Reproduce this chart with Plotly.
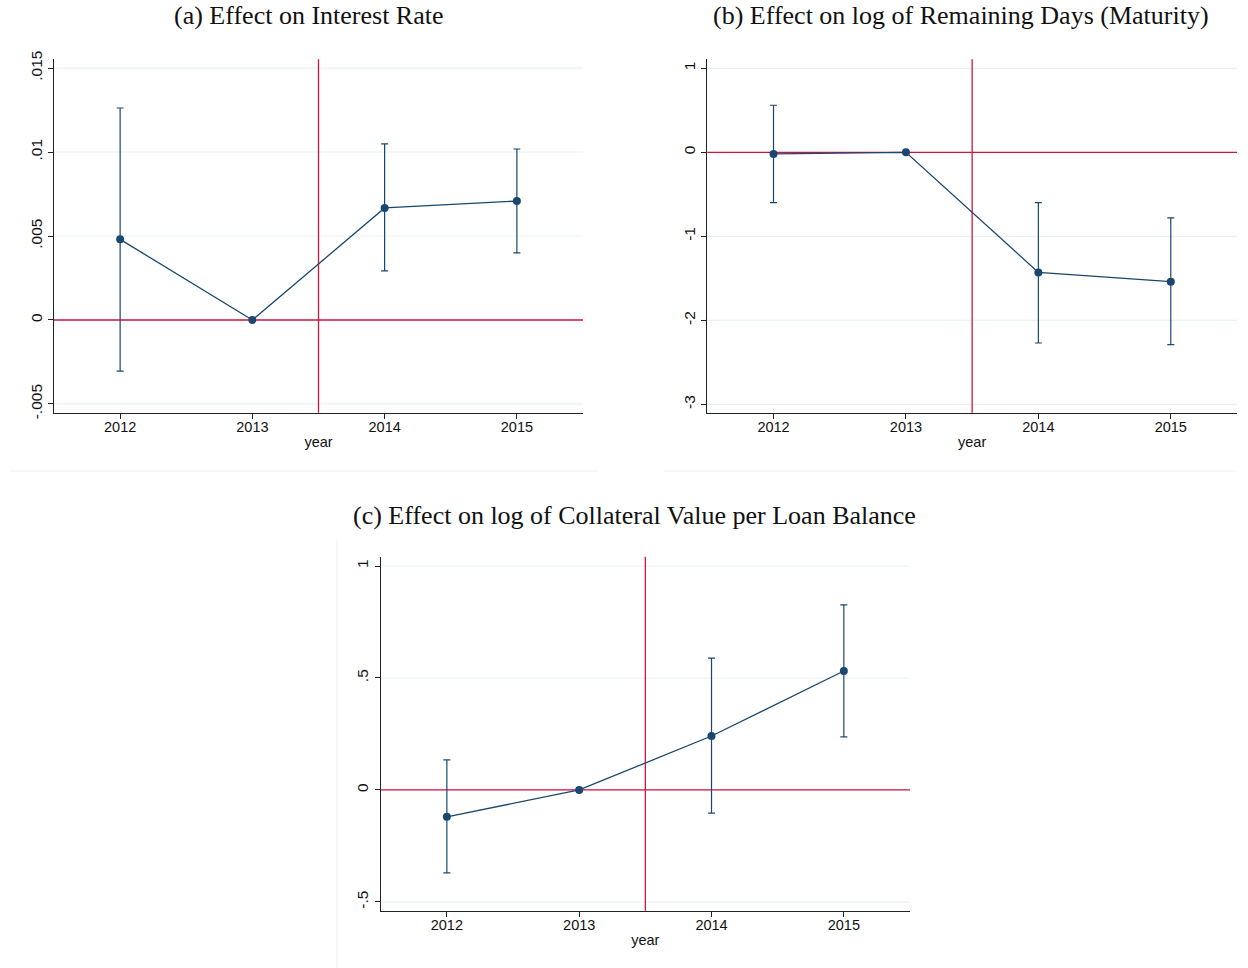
import plotly.graph_objects as go

# Event-study coefficients with 95% confidence bounds (2013 is the base year)
years = [2012, 2013, 2014, 2015]

rate_coef = [0.0048, 0.0, 0.00667, 0.00708]
rate_lo = [-0.00304, None, 0.00292, 0.00399]
rate_hi = [0.01262, None, 0.01048, 0.01018]

days_coef = [-0.02, 0.0, -1.43, -1.54]
days_lo = [-0.60, None, -2.27, -2.29]
days_hi = [0.56, None, -0.60, -0.78]

coll_coef = [-0.12, 0.0, 0.241, 0.531]
coll_lo = [-0.37, None, -0.103, 0.237]
coll_hi = [0.134, None, 0.589, 0.826]

titles = [
    "(a) Effect on Interest Rate",
    "(b) Effect on log of Remaining Days (Maturity)",
    "(c) Effect on log of Collateral Value per Loan Balance",
]

rate_ticks = [-0.005, 0, 0.005, 0.01, 0.015]
rate_ticktext = ["-.005", "0", ".005", ".01", ".015"]
days_ticks = [-3, -2, -1, 0, 1]
days_ticktext = ["-3", "-2", "-1", "0", "1"]
coll_ticks = [-0.5, 0, 0.5, 1]
coll_ticktext = ["-.5", "0", ".5", "1"]

W, H = 1248, 968
NAVY = "#1a476f"
RED = "#d0163f"
GRID = "#eaf1f3"


def px_x(p):
    return p / W


def px_y(p):
    return 1 - p / H


panels = [
    dict(coef=rate_coef, lo=rate_lo, hi=rate_hi, ticks=rate_ticks, tt=rate_ticktext,
         yr=[-0.00552, 0.01552], xd=[54, 583], yd=[59.3, 412.7], title_xy=(309, 16)),
    dict(coef=days_coef, lo=days_lo, hi=days_hi, ticks=days_ticks, tt=days_ticktext,
         yr=[-3.10, 1.107], xd=[707.3, 1237], yd=[59.3, 412.7], title_xy=(961, 16)),
    dict(coef=coll_coef, lo=coll_lo, hi=coll_hi, ticks=coll_ticks, tt=coll_ticktext,
         yr=[-0.539, 1.0415], xd=[380.7, 910], yd=[556.7, 910.7], title_xy=(634, 515)),
]

fig = go.Figure()
layout = dict(
    width=W, height=H,
    margin=dict(l=0, r=0, t=0, b=0, autoexpand=False),
    paper_bgcolor="white", plot_bgcolor="white",
    showlegend=False,
    font=dict(family="Liberation Sans, Arial, sans-serif", color="#111"),
)
shapes = []
annotations = []

for i, p in enumerate(panels):
    n = i + 1
    xa = "x" if n == 1 else f"x{n}"
    ya = "y" if n == 1 else f"y{n}"

    # confidence intervals (skip base year)
    ex, ey, eplus, eminus = [], [], [], []
    for yv, c, lo, hi in zip(years, p["coef"], p["lo"], p["hi"]):
        if lo is None:
            continue
        ex.append(yv)
        ey.append(c)
        eplus.append(hi - c)
        eminus.append(c - lo)
    fig.add_trace(go.Scatter(
        x=ex, y=ey, mode="markers", xaxis=xa, yaxis=ya,
        marker=dict(size=1, color="rgba(0,0,0,0)"),
        error_y=dict(type="data", array=eplus, arrayminus=eminus, symmetric=False,
                     color=NAVY, thickness=1.2, width=3.5),
        hoverinfo="skip",
    ))
    # point estimates connected by a line
    fig.add_trace(go.Scatter(
        x=years, y=p["coef"], mode="lines+markers", xaxis=xa, yaxis=ya,
        line=dict(color=NAVY, width=1.3),
        marker=dict(size=8, color=NAVY),
    ))

    xkey = "xaxis" if n == 1 else f"xaxis{n}"
    ykey = "yaxis" if n == 1 else f"yaxis{n}"
    layout[xkey] = dict(
        domain=[px_x(p["xd"][0]), px_x(p["xd"][1])],
        range=[2011.5, 2015.5], anchor=ya, automargin=False,
        tickmode="array", tickvals=years, ticktext=[str(y) for y in years],
        ticks="outside", ticklen=5, tickcolor="#222", tickwidth=1,
        ticklabelstandoff=-4,
        showline=True, linecolor="#222", linewidth=1.3,
        showgrid=False, zeroline=False,
        tickfont=dict(size=14.5, color="#111"),
        title=dict(text="year", font=dict(size=14.5, color="#111"), standoff=2),
    )
    layout[ykey] = dict(
        domain=[px_y(p["yd"][1]), px_y(p["yd"][0])],
        range=p["yr"], anchor=xa, automargin=False,
        tickmode="array", tickvals=p["ticks"], ticktext=p["tt"],
        tickangle=-90,
        ticks="outside", ticklen=5, tickcolor="#222", tickwidth=1,
        showline=True, linecolor="#222", linewidth=1.3,
        showgrid=False, zeroline=False,
        tickfont=dict(size=15.5, color="#111"),
    )

    # light horizontal gridlines at each y tick
    for tv in p["ticks"]:
        shapes.append(dict(type="line", xref=f"{xa} domain", yref=ya, x0=0, x1=1,
                           y0=tv, y1=tv, line=dict(color=GRID, width=1.2), layer="below"))
    # zero-effect line and treatment onset
    shapes.append(dict(type="line", xref=f"{xa} domain", yref=ya, x0=0, x1=1, y0=0, y1=0,
                       line=dict(color=RED, width=1.3), layer="below"))
    shapes.append(dict(type="line", xref=xa, yref=f"{ya} domain", x0=2013.5, x1=2013.5,
                       y0=0, y1=1, line=dict(color=RED, width=1.3), layer="below"))

    tx, ty = p["title_xy"]
    annotations.append(dict(
        text=titles[i], x=px_x(tx), y=px_y(ty), xref="paper", yref="paper",
        xanchor="center", yanchor="middle", showarrow=False,
        font=dict(family="Liberation Serif, Times New Roman, serif", size=26, color="#111"),
    ))

# faint panel borders
border = "#efefef"
shapes.append(dict(type="line", xref="paper", yref="paper", x0=px_x(11), x1=px_x(598),
                   y0=px_y(471), y1=px_y(471), line=dict(color=border, width=1)))
shapes.append(dict(type="line", xref="paper", yref="paper", x0=px_x(664), x1=px_x(1236),
                   y0=px_y(471), y1=px_y(471), line=dict(color=border, width=1)))
shapes.append(dict(type="line", xref="paper", yref="paper", x0=px_x(337), x1=px_x(337),
                   y0=px_y(540), y1=px_y(968), line=dict(color=border, width=1)))

layout["shapes"] = shapes
layout["annotations"] = annotations
fig.update_layout(**layout)

fig.write_html("out.html")
